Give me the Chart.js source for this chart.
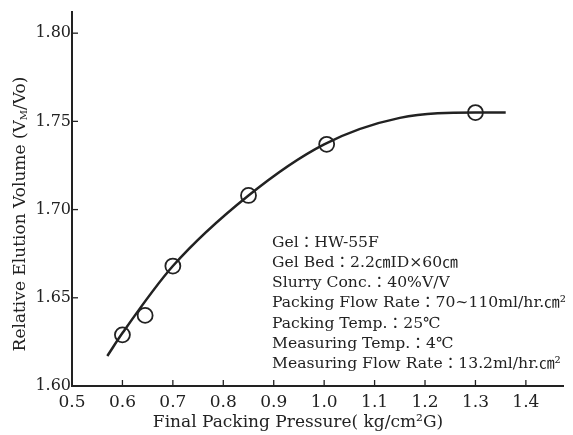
<!DOCTYPE html>
<html>
<head>
<meta charset="utf-8">
<script src="https://cdn.jsdelivr.net/npm/chart.js@4.4.1/dist/chart.umd.min.js"></script>
<style>
  body { margin: 0; background: #fff; }
  canvas { display: block; }
</style>
</head>
<body>
<canvas id="pressure-chart" width="573" height="435"></canvas>
<script>
// measured points (final packing pressure vs relative elution volume)
var pressure = [0.60, 0.645, 0.70, 0.85, 1.005, 1.30];
var relVolume = [1.629, 1.640, 1.668, 1.708, 1.737, 1.755];

// hand-drawn fitted curve
var curveX = [0.57, 0.60, 0.70, 0.85, 1.00, 1.15, 1.30, 1.36];
var curveY = [1.617, 1.630, 1.668, 1.708, 1.737, 1.752, 1.755, 1.755];

var xTicks = [0.5, 0.6, 0.7, 0.8, 0.9, 1.0, 1.1, 1.2, 1.3, 1.4];
var yTicks = [1.60, 1.65, 1.70, 1.75, 1.80];

var conditions = [
	'Gel：HW-55F',
	'Gel Bed：2.2㎝ID×60㎝',
	'Slurry Conc.：40%V/V',
	'Packing Flow Rate：70~110ml/hr.㎝²',
	'Packing Temp.：25℃',
	'Measuring Temp.：4℃',
	'Measuring Flow Rate：13.2ml/hr.㎝²'
];

var ink = '#222';
var serif = "'DejaVu Serif', 'Liberation Serif', 'Noto Sans CJK JP', serif";

var extras = {
	id: 'extras',
	afterDraw: function(chart) {
		var ctx = chart.ctx;
		var area = chart.chartArea;
		var xs = chart.scales.x;
		var ys = chart.scales.y;
		ctx.save();
		ctx.strokeStyle = ink;
		ctx.lineWidth = 1.3;
		// inward tick marks
		xTicks.forEach(function(v) {
			if (v === 0.5) return;
			var px = xs.getPixelForValue(v);
			ctx.beginPath();
			ctx.moveTo(px, area.bottom);
			ctx.lineTo(px, area.bottom - 6);
			ctx.stroke();
		});
		yTicks.forEach(function(v) {
			if (v === 1.60) return;
			var py = ys.getPixelForValue(v);
			ctx.beginPath();
			ctx.moveTo(area.left, py);
			ctx.lineTo(area.left + 6, py);
			ctx.stroke();
		});

		ctx.fillStyle = ink;
		// x title
		ctx.font = '17px ' + serif;
		ctx.textAlign = 'center';
		ctx.textBaseline = 'middle';
		ctx.fillText('Final Packing Pressure( kg/cm²G)', 298, 423);

		// y title with subscript M
		ctx.translate(21, 214);
		ctx.rotate(-Math.PI / 2);
		var p1 = 'Relative Elution Volume (V';
		var p2 = 'M';
		var p3 = '/Vo)';
		ctx.font = '17px ' + serif;
		var w1 = ctx.measureText(p1).width;
		var w3 = ctx.measureText(p3).width;
		ctx.font = '10px ' + serif;
		var w2 = ctx.measureText(p2).width;
		var start = -(w1 + w2 + w3) / 2;
		ctx.textAlign = 'left';
		ctx.font = '17px ' + serif;
		ctx.fillText(p1, start, 0);
		ctx.font = '10px ' + serif;
		ctx.fillText(p2, start + w1, 3);
		ctx.font = '17px ' + serif;
		ctx.fillText(p3, start + w1 + w2, 0);
		ctx.restore();

		// experimental conditions, stretched to the width of the original block
		ctx.save();
		ctx.fillStyle = ink;
		ctx.font = '15px ' + serif;
		ctx.textAlign = 'left';
		ctx.textBaseline = 'middle';
		var widest = ctx.measureText(conditions[3]).width;
		var k = 294 / widest;
		ctx.translate(272, 0);
		ctx.scale(k, 1);
		conditions.forEach(function(line, i) {
			ctx.fillText(line, 0, 243 + i * 20.2);
		});
		ctx.restore();
	}
};

new Chart(document.getElementById('pressure-chart').getContext('2d'), {
	type: 'scatter',
	data: {
		datasets: [
			{
				type: 'line',
				data: curveX.map(function(x, i) { return { x: x, y: curveY[i] }; }),
				borderColor: ink,
				borderWidth: 2.5,
				pointRadius: 0,
				cubicInterpolationMode: 'monotone',
				fill: false
			},
			{
				data: pressure.map(function(x, i) { return { x: x, y: relVolume[i] }; }),
				pointRadius: 7.5,
				pointBorderWidth: 1.8,
				pointBorderColor: ink,
				pointBackgroundColor: '#fff'
			}
		]
	},
	options: {
		responsive: false,
		animation: false,
		layout: { padding: { top: 12, right: 0, left: 0, bottom: 0 } },
		plugins: {
			legend: { display: false },
			tooltip: { enabled: false }
		},
		scales: {
			x: {
				type: 'linear',
				min: 0.5,
				max: 1.475,
				afterBuildTicks: function(axis) {
					axis.ticks = xTicks.map(function(v) { return { value: v }; });
				},
				afterFit: function(axis) { axis.height = 49; },
				grid: { display: false, drawTicks: false },
				border: { display: true, color: ink, width: 2 },
				ticks: {
					color: ink,
					padding: 6,
					maxRotation: 0,
					font: { family: serif, size: 17 },
					callback: function(v) { return v.toFixed(1); }
				}
			},
			y: {
				type: 'linear',
				min: 1.60,
				max: 1.812,
				afterBuildTicks: function(axis) {
					axis.ticks = yTicks.map(function(v) { return { value: v }; });
				},
				afterFit: function(axis) { axis.width = 72; },
				grid: { display: false, drawTicks: false },
				border: { display: true, color: ink, width: 2 },
				ticks: {
					color: ink,
					padding: 1,
					font: { family: serif, size: 16 },
					callback: function(v) { return v.toFixed(2); }
				}
			}
		}
	},
	plugins: [extras]
});
</script>
</body>
</html>
